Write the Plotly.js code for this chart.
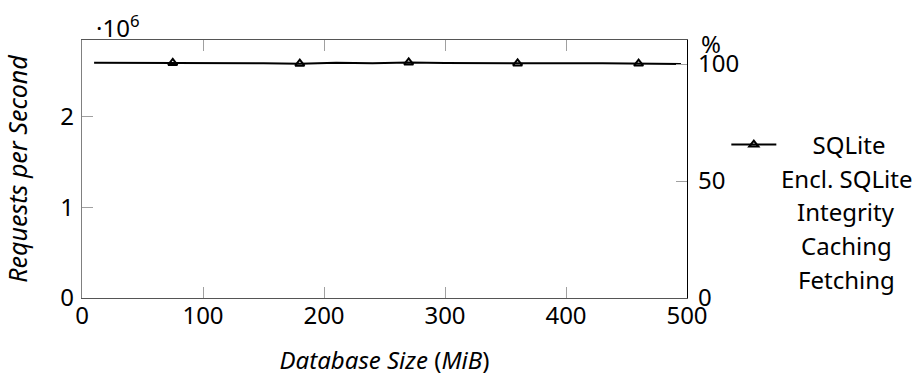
<!DOCTYPE html>
<html>
<head>
<meta charset="utf-8">
<script src="https://cdn.plot.ly/plotly-3.0.1.min.js"></script>
<style>
  html, body { margin: 0; padding: 0; background: #fff; }
  #chart { width: 913px; height: 376px; }
</style>
</head>
<body>
<div id="chart"></div>
<script>
// Throughput of plain SQLite against database size
const sizeMiB = [10, 40, 75, 120, 150, 180, 210, 240, 270, 300, 330, 360, 400, 430, 460, 495];
const requestsMillions = [2.598, 2.598, 2.597, 2.597, 2.594, 2.589, 2.600, 2.594, 2.602, 2.596, 2.593, 2.591, 2.593, 2.594, 2.590, 2.586];
// sizes at which a triangle mark is placed on the curve
const markedMiB = [75, 180, 270, 360, 460];

const seriesNames = ['SQLite', 'Encl. SQLite', 'Integrity', 'Caching', 'Fetching'];
const xTicks = [0, 100, 200, 300, 400, 500];
const yTicks = [0, 1, 2];
const pctTicks = [0, 50, 100];

const FONT = '"Noto Sans", "Open Sans", sans-serif';
const FS = 24;

const markOpacity = sizeMiB.map(v => markedMiB.includes(v) ? 1 : 0);
const NB = '\u00a0';

const traces = [
  {
    x: sizeMiB,
    y: requestsMillions,
    type: 'scatter',
    mode: 'lines+markers',
    line: { color: '#000', width: 2 },
    marker: { symbol: 'triangle-up-open', size: 8, color: '#000', opacity: markOpacity, line: { width: 2, color: '#000' } },
    showlegend: false,
    hoverinfo: 'x+y'
  },
  {
    // legend entry for the curve above
    x: [null],
    y: [null],
    type: 'scatter',
    mode: 'lines+markers',
    name: NB.repeat(5) + seriesNames[0],
    line: { color: '#000', width: 2 },
    marker: { symbol: 'triangle-up-open', size: 8, color: '#000', line: { width: 2, color: '#000' } },
    showlegend: true
  },
  {
    // percentage scale on the right
    x: [null],
    y: [null],
    yaxis: 'y2',
    type: 'scatter',
    mode: 'lines',
    showlegend: false,
    hoverinfo: 'skip'
  }
];

// remaining series names listed under the legend entry
const legendAnnotations = seriesNames.slice(1).map((name, i) => ({
  xref: 'paper', yref: 'paper',
  x: 1.263, y: 0.465 - i * 0.1305,
  xanchor: 'center', yanchor: 'middle',
  text: name, showarrow: false,
  font: { family: FONT, size: FS, color: '#000' }
}));

const layout = {
  width: 913,
  height: 376,
  margin: { l: 82, r: 226, t: 40, b: 78 },
  paper_bgcolor: '#fff',
  plot_bgcolor: '#fff',
  font: { family: FONT, size: FS, color: '#000' },
  xaxis: {
    range: [0, 500],
    tickvals: xTicks,
    ticks: 'inside', ticklen: 11, tickwidth: 1, tickcolor: '#a0a0a0',
    showline: true, linecolor: '#555', linewidth: 1, mirror: 'ticks',
    showgrid: false, zeroline: false,
    ticklabelstandoff: -4,
    automargin: false,
    tickfont: { family: FONT, size: FS, color: '#000' },
    title: { text: '<i>Database Size</i> (<i>MiB</i>)', font: { family: FONT, size: 24, color: '#000' } }
  },
  yaxis: {
    range: [0, 2.85],
    tickvals: yTicks,
    ticks: 'inside', ticklen: 11, tickwidth: 1, tickcolor: '#a0a0a0',
    showline: true, linecolor: '#808080', linewidth: 1.3,
    showgrid: false, zeroline: false,
    ticklabelstandoff: 2,
    automargin: true,
    tickfont: { family: FONT, size: FS, color: '#000' },
    title: { text: '<i>Requests per Second</i>', standoff: 29, font: { family: FONT, size: 25, color: '#000' } }
  },
  yaxis2: {
    overlaying: 'y',
    side: 'right',
    range: [0, 110.3],
    tickvals: pctTicks,
    ticks: 'inside', ticklen: 11, tickwidth: 1, tickcolor: '#a0a0a0',
    showline: true, linecolor: '#000', linewidth: 1.3,
    showgrid: false, zeroline: false,
    ticklabelstandoff: 5,
    tickfont: { family: FONT, size: FS, color: '#000' }
  },
  showlegend: true,
  legend: {
    x: 1.065, y: 0.593,
    xanchor: 'left', yanchor: 'middle',
    bgcolor: 'rgba(0,0,0,0)', borderwidth: 0,
    font: { family: FONT, size: FS, color: '#000' },
    itemwidth: 45
  },
  annotations: [
    {
      xref: 'paper', yref: 'paper', x: 0.02, y: 0.976,
      xanchor: 'left', yanchor: 'bottom',
      text: '·10<sup>6</sup>', showarrow: false,
      font: { family: FONT, size: FS, color: '#000' }
    },
    {
      xref: 'paper', yref: 'paper', x: 1.02, y: 0.988,
      xanchor: 'left', yanchor: 'middle',
      text: '%', showarrow: false,
      font: { family: FONT, size: FS, color: '#000' }
    }
  ].concat(legendAnnotations)
};

Plotly.newPlot('chart', traces, layout, { displayModeBar: false, staticPlot: true });
</script>
</body>
</html>
